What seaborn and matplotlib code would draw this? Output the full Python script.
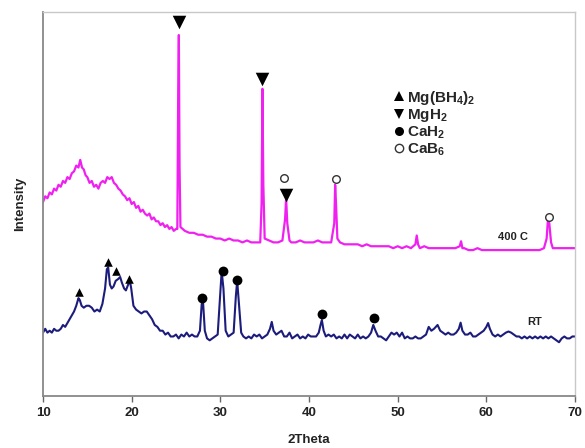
import numpy as np
import pandas as pd
import matplotlib
matplotlib.use("Agg")
import matplotlib.pyplot as plt
from matplotlib.lines import Line2D
import seaborn as sns

# ---------------- data ----------------
x_400 = [10.0, 10.25, 10.5, 10.75, 11.0, 11.25, 11.5, 11.75, 12.0, 12.25, 12.5, 12.75,
         13.0, 13.25, 13.5, 13.75, 14.0, 14.2, 14.4, 14.6, 14.8, 15.0, 15.25, 15.5,
         15.75, 16.0, 16.25, 16.5, 16.75, 17.0, 17.25, 17.5, 17.75, 18.0, 18.25, 18.5,
         18.75, 19.0, 19.25, 19.5, 19.75, 20.0, 20.25, 20.5, 20.75, 21.0, 21.25, 21.5,
         21.75, 22.0, 22.25, 22.5, 22.75, 23.0, 23.25, 23.5, 23.75, 24.0, 24.25, 24.5,
         24.75, 25.0, 25.15, 25.25, 25.32, 25.4, 25.5, 25.75, 26.0, 26.5, 27.0, 27.5,
         28.0, 28.5, 29.0, 29.5, 30.0, 30.5, 31.0, 31.5, 32.0, 32.5, 33.0, 33.5, 34.0,
         34.5, 34.65, 34.75, 34.85, 35.0, 35.5, 36.0, 36.5, 37.0, 37.3, 37.42, 37.55,
         37.8, 38.0, 38.5, 39.0, 39.5, 40.0, 40.5, 41.0, 41.5, 42.0, 42.5, 42.85, 42.95,
         43.05, 43.2, 43.5, 44.0, 44.5, 45.0, 45.5, 46.0, 46.5, 47.0, 47.5, 48.0, 48.5,
         49.0, 49.5, 50.0, 50.5, 51.0, 51.5, 52.0, 52.15, 52.3, 52.5, 53.0, 53.5, 54.0,
         55.0, 55.5, 56.0, 56.5, 57.0, 57.15, 57.3, 57.5, 58.0, 58.5, 59.0, 59.5, 60.0,
         61.0, 62.0, 63.0, 64.0, 65.0, 66.0, 66.5, 66.8, 66.95, 67.1, 67.3, 67.5, 68.0,
         69.0, 70.0]
y_400 = [50.5, 52, 51.5, 53, 52.5, 54, 53.5, 55, 54.5, 56, 55.5, 57,
         56.5, 58, 58.5, 60, 59.5, 61.5, 59.5, 59, 57.5, 57, 55.5, 56,
         54.5, 55, 54, 55.5, 56, 55.5, 57, 56.5, 57, 55.5, 55, 54,
         53.5, 52.5, 52, 51, 51.5, 50, 50.5, 49, 49.5, 48, 48.5, 47.5,
         47, 47.5, 46, 46.5, 45.5, 45.5, 44.5, 45, 44, 44.5, 43.5, 44,
         43, 43.5, 43.5, 80, 94, 60, 44, 43.5, 43, 42.5, 42.5, 42,
         42, 41.5, 41.5, 41, 41, 40.5, 41, 40.5, 40.5, 40, 40.5, 40, 40,
         40, 50, 80, 55, 41, 40.5, 40, 40, 40.5, 46, 51.5, 45,
         40.5, 40, 40, 40.5, 40, 40, 40, 40.5, 40, 40, 40, 45, 55,
         50, 41, 40, 39.5, 39.5, 39.5, 39.5, 39, 39.5, 39, 39, 39, 39,
         39, 38.5, 39, 38.5, 39, 38.5, 39.5, 41.8, 39.5, 38.5, 39, 38.5, 38.5,
         38.5, 38.5, 38.5, 38.5, 39, 40.3, 38.5, 38.5, 38, 38, 38.5, 38, 38,
         38, 38, 38, 38, 38, 38, 38.5, 41, 46, 45, 40, 38.5, 38.5,
         38.5, 38.5]

x_rt = [10.0, 10.25, 10.5, 10.75, 11.0, 11.25, 11.5, 11.75, 12.0, 12.25, 12.5, 12.75,
        13.0, 13.25, 13.5, 13.75, 14.0, 14.15, 14.35, 14.6, 14.9, 15.2, 15.5, 15.8,
        16.1, 16.4, 16.7, 17.0, 17.2, 17.35, 17.55, 17.75, 17.95, 18.2, 18.5, 18.7,
        18.9, 19.15, 19.35, 19.6, 19.8, 19.95, 20.2, 20.5, 20.8, 21.1, 21.4, 21.7,
        22.0, 22.3, 22.6, 22.9, 23.2, 23.5, 23.8, 24.1, 24.4, 24.7, 25.0, 25.3, 25.6,
        25.9, 26.2, 26.5, 26.8, 27.1, 27.4, 27.7, 27.9, 28.05, 28.25, 28.5, 28.8, 29.1,
        29.4, 29.7, 30.0, 30.15, 30.35, 30.6, 30.9, 31.2, 31.5, 31.75, 31.9, 32.1,
        32.35, 32.6, 32.9, 33.2, 33.5, 33.8, 34.1, 34.4, 34.7, 35.0, 35.3, 35.6, 35.8,
        36.0, 36.3, 36.6, 36.9, 37.2, 37.5, 37.8, 38.1, 38.4, 38.7, 39.0, 39.3, 39.6,
        39.9, 40.2, 40.5, 40.8, 41.1, 41.3, 41.45, 41.65, 41.9, 42.2, 42.5, 42.8, 43.1,
        43.4, 43.7, 44.0, 44.3, 44.6, 44.9, 45.2, 45.5, 45.8, 46.1, 46.4, 46.7, 47.0,
        47.25, 47.5, 47.8, 48.1, 48.4, 48.7, 49.0, 49.3, 49.6, 49.9, 50.2, 50.5, 50.8,
        51.1, 51.4, 51.7, 52.0, 52.3, 52.6, 52.9, 53.2, 53.5, 53.8, 54.1, 54.5, 54.8,
        55.1, 55.4, 55.7, 56.0, 56.3, 56.6, 56.9, 57.1, 57.3, 57.6, 57.9, 58.2, 58.5,
        58.8, 59.1, 59.4, 59.7, 60.0, 60.2, 60.4, 60.7, 61.0, 61.3, 61.6, 61.9, 62.2,
        62.5, 62.8, 63.1, 63.4, 63.7, 64.0, 64.3, 64.6, 64.9, 65.2, 65.5, 65.8, 66.1,
        66.4, 66.7, 67.0, 67.3, 67.6, 67.9, 68.2, 68.5, 68.8, 69.1, 69.4, 69.7, 70.0]
y_rt = [16.5, 17.5, 16.5, 17, 16.5, 17.5, 17, 17, 17.5, 18.5, 18, 19,
        20, 21, 22, 23.5, 25.5, 25, 23.5, 23, 23.5, 23.5, 23, 22,
        22.5, 22, 24, 28, 33, 33.5, 29, 28, 28.5, 30, 30.5, 31,
        29.5, 28, 27.5, 29, 30, 28, 23.5, 22.5, 22, 21.5, 22, 22,
        21, 20, 18.5, 18, 17, 17, 16, 16.5, 15.5, 15.5, 16, 15, 16,
        15.5, 16.5, 15.5, 16, 15.5, 15.5, 17, 24, 24.5, 17, 15, 14.5, 15,
        15.5, 16, 27, 32.5, 28, 17, 15.5, 16, 16.5, 26, 30, 24,
        16.5, 15.5, 15, 15.5, 15, 16, 15.5, 16, 15, 15.5, 16, 17.5, 19.3,
        17, 16, 16.5, 17, 15.5, 15.5, 16.5, 15, 15.5, 16, 15, 15.5, 15,
        16, 15.5, 15.5, 15.5, 16.5, 18.5, 19.8, 17, 15.5, 16, 15.5, 16, 15,
        15.5, 15, 16, 15, 16, 15.5, 15, 16, 15, 15.5, 15, 15.5, 16.5,
        18.5, 17, 15.5, 15.5, 15, 14.5, 15.5, 16.5, 16, 16.5, 15.5, 16.5, 15,
        15.5, 15, 15, 15.5, 15, 15, 15.5, 16, 18, 17, 17.5, 18.5, 17,
        16.5, 16, 16.5, 16, 16, 16.5, 17.5, 19.1, 17, 16, 16, 16.5, 15.5,
        15.5, 16, 16.5, 17, 18, 19, 17.5, 16, 15.5, 16, 15.5, 16, 16.5,
        16.8, 16.5, 16, 15.5, 15.5, 15, 15.5, 15, 15.5, 15, 15.5, 15, 15.5,
        15, 15.5, 15, 15.5, 15, 14.5, 14, 15, 15.5, 15, 15, 15.5, 15.5]

# phase marker positions (2theta, intensity)
mgbh4_x = [14.1, 17.3, 18.2, 19.75]
mgbh4_y = [27.0, 34.8, 32.5, 30.4]
mgh2_x = [25.32, 34.75, 37.42]
mgh2_y = [97.5, 82.5, 52.3]
cah2_x = [27.95, 30.25, 31.85, 41.45, 47.35]
cah2_y = [25.6, 32.6, 30.2, 21.3, 20.2]
cab6_x = [37.2, 43.0, 67.1]
cab6_y = [56.7, 56.5, 46.7]

legend_labels = [r"Mg(BH$_\mathbf{4}$)$_\mathbf{2}$", r"MgH$_\mathbf{2}$",
                 r"CaH$_\mathbf{2}$", r"CaB$_\mathbf{6}$"]
x_ticks = [10, 20, 30, 40, 50, 60, 70]
label_400 = "400 C"
label_rt = "RT"

# ---------------- plotting ----------------
sns.set_style("white")
plt.rcParams["font.family"] = ["Liberation Sans", "DejaVu Sans"]
plt.rcParams["mathtext.fontset"] = "custom"
plt.rcParams["mathtext.rm"] = "Liberation Sans:bold"
plt.rcParams["mathtext.bf"] = "Liberation Sans:bold"
plt.rcParams["mathtext.default"] = "bf"

fig = plt.figure(figsize=(5.85, 4.48), dpi=100)
ax = fig.add_axes([43 / 585, 52 / 448, 532 / 585, 384 / 448])

df400 = pd.DataFrame({"x": x_400, "y": y_400})
dfrt = pd.DataFrame({"x": x_rt, "y": y_rt})
sns.lineplot(data=df400, x="x", y="y", ax=ax, color="#f020f0", lw=1.6,
             sort=False, estimator=None)
sns.lineplot(data=dfrt, x="x", y="y", ax=ax, color="#1c1c7c", lw=1.5,
             sort=False, estimator=None)

ax.scatter(mgbh4_x, mgbh4_y, marker="^", s=38, color="black", zorder=5, lw=0)
ax.scatter(mgh2_x, mgh2_y, marker="v", s=95, color="black", zorder=5, lw=0)
ax.scatter(cah2_x, cah2_y, marker="o", s=50, color="black", zorder=5, lw=0)
ax.scatter(cab6_x, cab6_y, marker="o", s=30, facecolor="white",
           edgecolor="#333333", lw=1.0, zorder=5)

handles = [
    Line2D([], [], ls="none", marker="^", ms=7, color="black", mew=0),
    Line2D([], [], ls="none", marker="v", ms=7, color="black", mew=0),
    Line2D([], [], ls="none", marker="o", ms=6.5, color="black", mew=0),
    Line2D([], [], ls="none", marker="o", ms=6, mfc="white", mec="#333333", mew=1.0),
]
leg = ax.legend(handles, legend_labels, loc="upper left",
                bbox_to_anchor=(0.66, 0.80), frameon=False,
                prop={"weight": "bold", "size": 11},
                handlelength=0.6, handletextpad=0.25, labelspacing=0.02,
                borderpad=0, borderaxespad=0)

ax.text(63.0, 41.4, label_400, fontsize=8, fontweight="bold", ha="center", va="center",
        color="#222222")
ax.text(65.5, 19.3, label_rt, fontsize=8, fontweight="bold", ha="center", va="center",
        color="#222222")

ax.set_xlim(10, 70)
ax.set_ylim(0, 100)
ax.set_xticks(x_ticks)
ax.set_xticklabels([str(t) for t in x_ticks], fontweight="bold", fontsize=9.5,
                   color="#222222")
ax.set_yticks([])
ax.tick_params(axis="x", direction="out", length=4, width=1, color="#666666",
               bottom=True, pad=4)
ax.set_xlabel("2Theta", fontweight="bold", fontsize=9.5, color="#222222", labelpad=11)
ax.set_ylabel("Intensity", fontweight="bold", fontsize=9.5, color="#222222", labelpad=12)

for side in ["left", "bottom"]:
    ax.spines[side].set_color("#888888")
    ax.spines[side].set_linewidth(1.3)
for side in ["top", "right"]:
    ax.spines[side].set_color("#c8c8c8")
    ax.spines[side].set_linewidth(1.0)

fig.savefig("out.png", dpi=100)
